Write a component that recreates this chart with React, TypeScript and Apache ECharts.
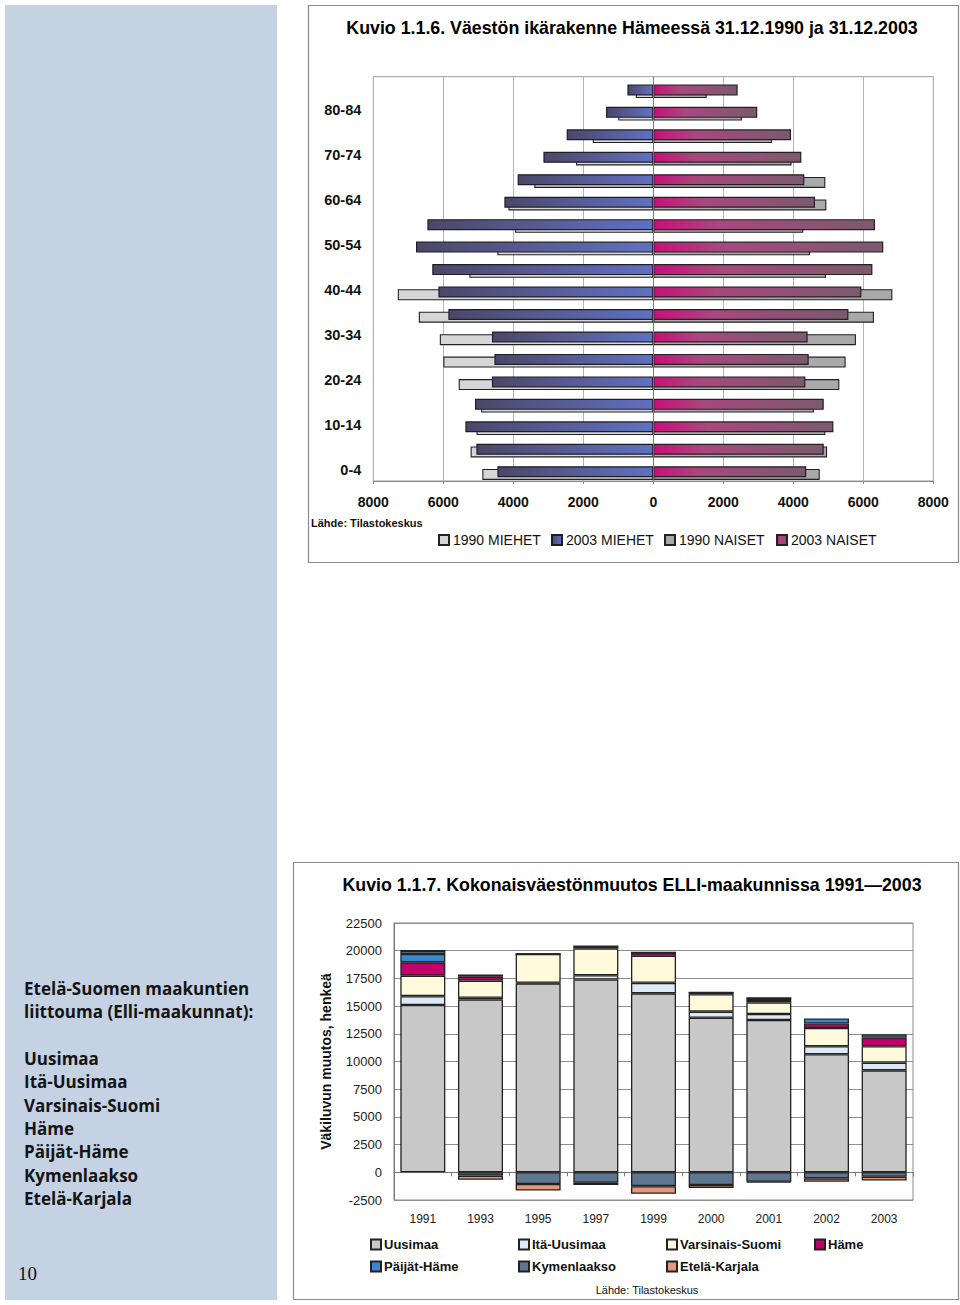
import React, { useEffect, useRef } from 'react';
import * as echarts from 'echarts';

// ---------- Data: Kuvio 1.1.6 (age pyramid), listed from 0-4 upwards ----------
const ageGroups = ['0-4', '5-9', '10-14', '15-19', '20-24', '25-29', '30-34', '35-39', '40-44', '45-49', '50-54', '55-59', '60-64', '65-69', '70-74', '75-79', '80-84', '85+'];
const men1990 = [4885, 5220, 5050, 4920, 5560, 6000, 6100, 6700, 7300, 5255, 4455, 3950, 4140, 3400, 2210, 1730, 1000, 500];
const men2003 = [4455, 5055, 5370, 5095, 4610, 4540, 4610, 5855, 6140, 6315, 6780, 6455, 4255, 3875, 3140, 2475, 1350, 740];
const women1990 = [4755, 4965, 4915, 4590, 5315, 5495, 5790, 6305, 6830, 4935, 4475, 4285, 4945, 4915, 3950, 3390, 2535, 1525];
const women2003 = [4370, 4870, 5145, 4870, 4345, 4440, 4410, 5575, 5945, 6260, 6570, 6335, 4620, 4315, 4230, 3935, 2970, 2410];
const pyramidTicks = [-8000, 8000, 2000];

// ---------- Data: Kuvio 1.1.7 (population change) ----------
const years = ['1991', '1993', '1995', '1997', '1999', '2000', '2001', '2002', '2003'];
const uusimaa = [15100, 15600, 17050, 17400, 16150, 13950, 13750, 10650, 9200];
const itaUusimaa = [800, 150, 50, 380, 950, 550, 540, 720, 700];
const varsinaisSuomi = [1850, 1550, 2600, 2430, 2450, 1570, 1030, 1660, 1480];
const hame = [1200, 350, 0, 200, 300, 170, 240, 400, 790];
const paijatHame = [750, 200, 0, 0, 0, 0, 240, 450, 300];
const kymenlaakso = [300, -300, -1050, -950, -1250, -1150, -850, -550, -400];
const etelaKarjala = [0, -370, -600, -200, -690, -270, -60, -300, -350];
const changeTicks = [-2500, 22500, 2500];

const regionNames = ['Uusimaa', 'Itä-Uusimaa', 'Varsinais-Suomi', 'Häme', 'Päijät-Häme', 'Kymenlaakso', 'Etelä-Karjala'];
const regionValues = [uusimaa, itaUusimaa, varsinaisSuomi, hame, paijatHame, kymenlaakso, etelaKarjala];
const regionColors = ['#c8c8c8', '#dde9f6', '#fffadb', '#c2006c', '#3a88cc', '#5f7790', '#e4977a'];

const sideLines = ['Etelä-Suomen maakuntien', 'liittouma (Elli-maakunnat):', '', 'Uusimaa', 'Itä-Uusimaa', 'Varsinais-Suomi', 'Häme', 'Päijät-Häme', 'Kymenlaakso', 'Etelä-Karjala'];

const FONT = "'Liberation Sans', Arial, sans-serif";

export default function App() {
  const ref = useRef<HTMLDivElement>(null);

  useEffect(() => {
    if (!ref.current) return;
    const chart = echarts.init(ref.current, undefined, { renderer: 'svg' });

    const menGrad = new echarts.graphic.LinearGradient(0, 0, 1, 0, [
      { offset: 0, color: '#4a4868' },
      { offset: 0.5, color: '#575c94' },
      { offset: 1, color: '#6070c2' },
    ]);
    const womenGrad = new echarts.graphic.LinearGradient(0, 0, 1, 0, [
      { offset: 0, color: '#c8107a' },
      { offset: 0.3, color: '#a8487e' },
      { offset: 1, color: '#7a5a6e' },
    ]);

    const barGap = '-75.5%';
    const pyramidSeries: any[] = [
      {
        name: 'spacer', type: 'bar', xAxisIndex: 0, yAxisIndex: 0, stack: 'd', barWidth: 27, barGap,
        data: ageGroups.map(() => '-'),
        markLine: {
          silent: true, symbol: 'none', label: { show: false },
          lineStyle: { color: '#777', type: 'solid', width: 1 },
          data: [{ xAxis: 0 }],
        },
      },
      {
        name: '2003 MIEHET', type: 'bar', xAxisIndex: 0, yAxisIndex: 0, stack: 'b', barWidth: 11, barGap, z: 4,
        data: men2003.map((v) => -v),
        itemStyle: { color: menGrad, borderColor: '#1e1e2a', borderWidth: 1.2 },
      },
      {
        name: '2003 NAISET', type: 'bar', xAxisIndex: 0, yAxisIndex: 0, stack: 'b', barWidth: 11, barGap, z: 4,
        data: women2003,
        itemStyle: { color: womenGrad, borderColor: '#2a1e24', borderWidth: 1.2 },
      },
      {
        name: '1990 MIEHET', type: 'bar', xAxisIndex: 0, yAxisIndex: 0, stack: 'a', barWidth: 11, barGap, z: 3,
        data: men1990.map((v) => -v),
        itemStyle: { color: '#d6d6d6', borderColor: '#222', borderWidth: 1.1 },
      },
      {
        name: '1990 NAISET', type: 'bar', xAxisIndex: 0, yAxisIndex: 0, stack: 'a', barWidth: 11, barGap, z: 3,
        data: women1990,
        itemStyle: { color: '#a9a9a9', borderColor: '#222', borderWidth: 1.1 },
      },
    ];

    const changeSeries: any[] = regionNames.map((name, i) => ({
      name, type: 'bar', xAxisIndex: 1, yAxisIndex: 1, stack: 'total', barWidth: 45,
      data: regionValues[i],
      itemStyle: { color: regionColors[i], borderColor: '#222', borderWidth: 1.3 },
    }));

    const topLegendNames = ['1990 MIEHET', '2003 MIEHET', '1990 NAISET', '2003 NAISET'];
    const topLegendX = [438, 551, 664, 776];
    const bottomLegendX = [370, 518, 666, 814, 370, 518, 666];
    const bottomLegendY = [1238, 1238, 1238, 1238, 1260, 1260, 1260];

    const legends: any[] = [
      ...topLegendNames.map((n, i) => ({
        data: [n], left: topLegendX[i], top: 533, padding: 0, itemWidth: 10, itemHeight: 10,
        icon: 'rect', selectedMode: false,
        textStyle: { fontFamily: FONT, fontSize: 14, color: '#111', padding: [0, 0, 0, -1] },
      })),
      ...regionNames.map((n, i) => ({
        data: [n], left: bottomLegendX[i], top: bottomLegendY[i], padding: 0, itemWidth: 10, itemHeight: 10,
        icon: 'rect', selectedMode: false,
        textStyle: { fontFamily: FONT, fontSize: 13, fontWeight: 'bold', color: '#111', padding: [0, 0, 0, -2] },
      })),
    ];

    const graphics: any[] = [
      { type: 'rect', z: -10, shape: { x: 5, y: 5, width: 272, height: 1295 }, style: { fill: '#c4d2e3' } },
      { type: 'rect', z: -10, shape: { x: 308.5, y: 5.5, width: 650, height: 557 }, style: { fill: 'none', stroke: '#8a8a8a', lineWidth: 1.2 } },
      { type: 'rect', z: -10, shape: { x: 293.5, y: 862.5, width: 665, height: 437 }, style: { fill: 'none', stroke: '#8a8a8a', lineWidth: 1.2 } },
      {
        type: 'text', x: 632, y: 28,
        style: { text: 'Kuvio 1.1.6. Väestön ikärakenne Hämeessä 31.12.1990 ja 31.12.2003', font: `bold 17.8px ${FONT}`, fill: '#000', align: 'center', verticalAlign: 'middle' },
      },
      {
        type: 'text', x: 311, y: 523,
        style: { text: 'Lähde: Tilastokeskus', font: `bold 11px ${FONT}`, fill: '#111', align: 'left', verticalAlign: 'middle' },
      },
      {
        type: 'text', x: 632, y: 885,
        style: { text: 'Kuvio 1.1.7. Kokonaisväestönmuutos ELLI-maakunnissa 1991—2003', font: `bold 17.8px ${FONT}`, fill: '#000', align: 'center', verticalAlign: 'middle' },
      },
      {
        type: 'text', x: 647, y: 1290,
        style: { text: 'Lähde: Tilastokeskus', font: `11px ${FONT}`, fill: '#111', align: 'center', verticalAlign: 'middle' },
      },
      ...sideLines.map((t, i) => ({
        type: 'text', x: 24, y: 988 + i * 23.4,
        style: { text: t, font: "bold 17px 'Open Sans', 'Noto Sans', sans-serif", fill: '#141414', align: 'left', verticalAlign: 'middle' },
      })),
      {
        type: 'text', x: 18, y: 1273,
        style: { text: '10', font: "19px 'Liberation Serif', 'DejaVu Serif', serif", fill: '#111', align: 'left', verticalAlign: 'middle' },
      },
    ];

    chart.setOption({
      animation: false,
      backgroundColor: '#ffffff',
      graphic: graphics,
      legend: legends,
      grid: [
        { left: 373.3, top: 76.7, width: 560, height: 404.3, show: true, borderColor: '#9a9a9a', borderWidth: 1, backgroundColor: 'transparent' },
        { left: 394, top: 923, width: 519, height: 277, show: true, borderColor: '#8a8a8a', borderWidth: 1, backgroundColor: 'transparent' },
      ],
      xAxis: [
        {
          type: 'value', gridIndex: 0, min: pyramidTicks[0], max: pyramidTicks[1], interval: pyramidTicks[2],
          axisLine: { show: true, onZero: false, lineStyle: { color: '#888' } },
          axisTick: { show: true, length: 3, lineStyle: { color: '#888' } },
          axisLabel: { formatter: (v: number) => String(Math.abs(v)), fontFamily: FONT, fontSize: 14, fontWeight: 'bold', color: '#111', margin: 14 },
          splitLine: { show: true, lineStyle: { color: '#b4b4b4', width: 1 } },
        },
        {
          type: 'category', gridIndex: 1, data: years, position: 'bottom',
          axisLine: { show: false, onZero: false }, axisTick: { show: false },
          axisLabel: { fontFamily: FONT, fontSize: 12, color: '#222', margin: 13 },
          splitLine: { show: false },
        },
        {
          type: 'category', gridIndex: 1, data: years, position: 'bottom',
          axisLine: { show: true, onZero: true, lineStyle: { color: '#777', width: 1 } },
          axisTick: { show: true, length: 4, inside: false, lineStyle: { color: '#777' } },
          axisLabel: { show: false },
          splitLine: { show: false },
        },
      ],
      yAxis: [
        {
          type: 'category', gridIndex: 0, data: ageGroups,
          axisLine: { show: false }, axisTick: { show: false },
          axisLabel: { interval: 1, fontFamily: FONT, fontSize: 14.5, fontWeight: 'bold', color: '#111', margin: 12 },
          splitLine: { show: false },
        },
        {
          type: 'value', gridIndex: 1, min: changeTicks[0], max: changeTicks[1], interval: changeTicks[2],
          axisLine: { show: true, lineStyle: { color: '#777' } },
          axisTick: { show: false },
          axisLabel: { formatter: (v: number) => String(v), fontFamily: FONT, fontSize: 13, color: '#222', margin: 12 },
          splitLine: { show: true, lineStyle: { color: '#8e8e8e', width: 1 } },
          name: 'Väkiluvun muutos, henkeä', nameLocation: 'middle', nameRotate: 90, nameGap: 61,
          nameTextStyle: { fontFamily: FONT, fontSize: 14, fontWeight: 'bold', color: '#111' },
        },
      ],
      series: [...pyramidSeries, ...changeSeries],
    });

    return () => chart.dispose();
  }, []);

  return <div ref={ref} style={{ position: 'absolute', left: 0, top: 0, width: 960, height: 1305, background: '#fff' }} />;
}
